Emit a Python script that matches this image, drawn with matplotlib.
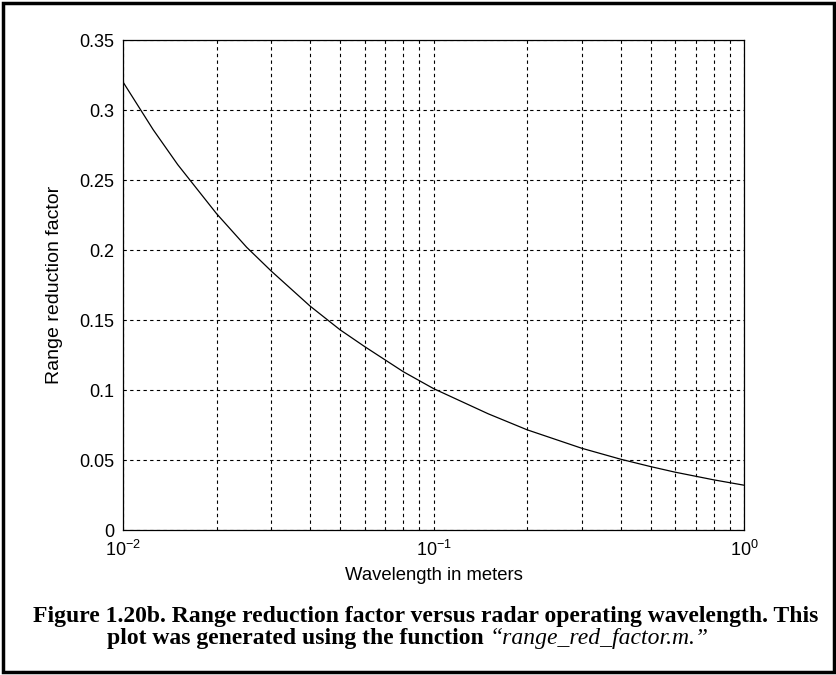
import numpy as np
import matplotlib.pyplot as plt
from matplotlib.patches import Rectangle

plt.rcParams['font.family'] = ['Liberation Sans', 'DejaVu Sans']
plt.rcParams['mathtext.fontset'] = 'custom'
plt.rcParams['mathtext.rm'] = 'Liberation Sans'

# values
wavelength = [0.01, 0.0125, 0.015, 0.02, 0.025, 0.03, 0.04, 0.05, 0.06, 0.08,
              0.1, 0.15, 0.2, 0.3, 0.4, 0.5, 0.6, 0.8, 1.0]
reduction = [0.320, 0.286, 0.261, 0.226, 0.202, 0.185, 0.160, 0.143, 0.131, 0.113,
             0.101, 0.083, 0.0716, 0.0584, 0.0506, 0.0453, 0.0413, 0.0358, 0.032]
yticks = [0, 0.05, 0.1, 0.15, 0.2, 0.25, 0.3, 0.35]
ytick_labels = ['0', '0.05', '0.1', '0.15', '0.2', '0.25', '0.3', '0.35']
xticks = [0.01, 0.1, 1.0]
xtick_labels = [r'$10^{-2}$', r'$10^{-1}$', r'$10^{0}$']

fig = plt.figure(figsize=(8.37, 6.75), dpi=100)
ax = fig.add_axes([0.147, 0.2148, 0.742, 0.7259])

ax.plot(wavelength, reduction, color='black', linewidth=0.9)
ax.set_xscale('log')
ax.set_xlim(0.01, 1.0)
ax.set_ylim(0, 0.35)

ax.set_yticks(yticks)
ax.set_yticklabels(ytick_labels)
ax.set_xticks(xticks)
ax.set_xticklabels(xtick_labels)
ax.tick_params(which='both', direction='in', length=0, labelsize=13)
ax.tick_params(axis='y', pad=6)
ax.tick_params(axis='x', pad=7)

ax.grid(True, which='major', color='black', linestyle=(0, (3, 3)), linewidth=0.8)
ax.grid(True, which='minor', axis='x', color='black', linestyle=(0, (3, 3)), linewidth=0.8)
for s in ax.spines.values():
    s.set_linewidth(0.9)

ax.set_xlabel('Wavelength in meters', fontsize=13.3, labelpad=5)
ax.set_ylabel('Range reduction factor', fontsize=14)
ax.yaxis.set_label_coords(-60 / 621, 0.5)

# caption: bold line, then bold + italic pieces side by side
cap = dict(va='center', family='Liberation Serif', fontsize=17)
fig.text(0.509, 0.0874, 'Figure 1.20b. Range reduction factor versus radar operating wavelength. This',
         ha='center', weight='bold', **cap)
t1 = fig.text(0, 0.0548, 'plot was generated using the function ', ha='left', weight='bold', **cap)
t2 = fig.text(0, 0.0548, '\u201crange_red_factor.m.\u201d', ha='left', style='italic', **cap)
fig.canvas.draw()
r = fig.canvas.get_renderer()
w1 = t1.get_window_extent(r).width
w2 = t2.get_window_extent(r).width
x0 = 407.5 - (w1 + w2) / 2
t1.set_x(x0 / 837)
t2.set_x((x0 + w1) / 837)

fig.patches.append(Rectangle((0.004, 0.004), 0.992, 0.992, transform=fig.transFigure,
                             fill=False, edgecolor='black', linewidth=2.5))

plt.savefig('out.png', dpi=100)
